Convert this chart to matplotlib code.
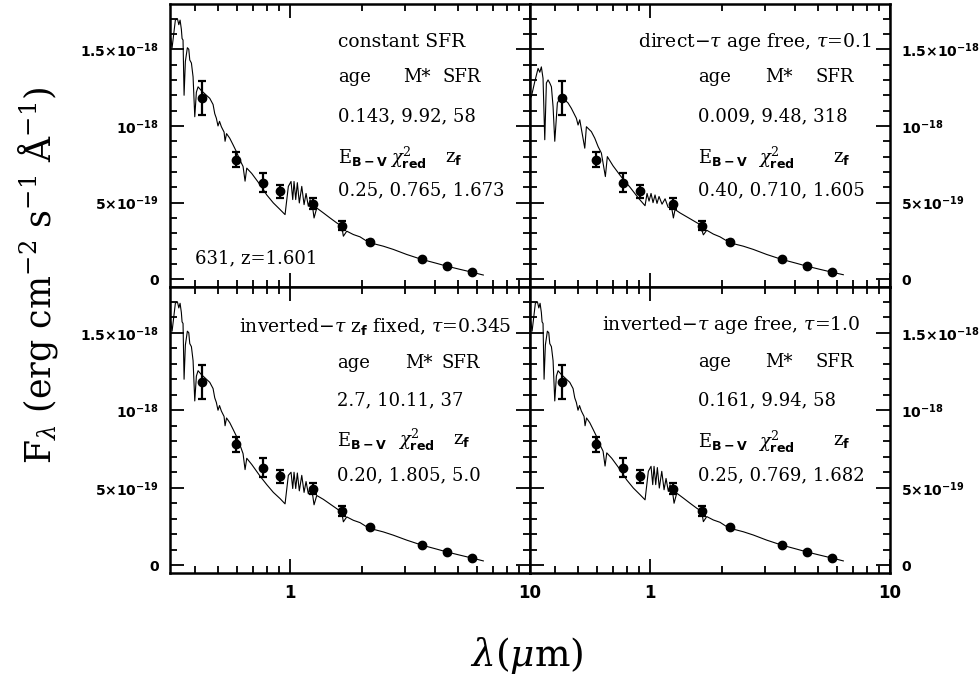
import numpy as np
import matplotlib
matplotlib.use("Agg")
import matplotlib.pyplot as plt
from matplotlib.ticker import FixedLocator, MultipleLocator, NullFormatter

plt.rcParams['font.family'] = ['DejaVu Serif']
plt.rcParams['mathtext.fontset'] = 'custom'
plt.rcParams['mathtext.rm'] = 'DejaVu Serif'
plt.rcParams['mathtext.it'] = 'DejaVu Serif:italic'
plt.rcParams['mathtext.bf'] = 'DejaVu Sans:bold'

# photometry (observed wavelength in micron, flux in 1e-19 erg/cm2/s/A)
phot_wl = [0.428, 0.596, 0.769, 0.909, 1.243, 1.64, 2.154, 3.56, 4.49, 5.71]
phot_flux = [11.8, 7.8, 6.3, 5.73, 4.94, 3.5, 2.45, 1.3, 0.86, 0.47]
phot_err = [1.1, 0.5, 0.6, 0.4, 0.35, 0.3, 0.1, 0.05, 0.05, 0.05]

# model spectra
old_wl = [0.3184, 0.3224, 0.3327, 0.3393, 0.3439, 0.3481, 0.3524, 0.3548, 0.3581, 0.3617,
          0.3662, 0.3733, 0.3784, 0.3820, 0.3881, 0.3943, 0.4008, 0.4070, 0.4137, 0.4270,
          0.4411, 0.4628, 0.4777, 0.4855, 0.4931, 0.5009, 0.5082, 0.5173, 0.5309, 0.5360,
          0.5436, 0.5606, 0.5788, 0.5974, 0.6171, 0.6370, 0.6494, 0.6601, 0.6925, 0.7499,
          0.7998, 0.8520, 0.9085, 0.9532, 0.9838, 1.0096, 1.026, 1.039, 1.056, 1.0725,
          1.093, 1.119, 1.144, 1.166, 1.192, 1.2115, 1.243, 1.259, 1.292, 1.377,
          1.468, 1.565, 1.642, 1.668, 1.723, 1.836, 1.957, 2.087, 2.154, 2.26,
          2.448, 2.694, 3.064, 3.538, 4.087, 4.497, 5.109, 5.715, 6.389]
flux_const = [15.7, 15.1, 16.9, 17.0, 16.6, 16.9, 16.3, 15.7, 15.6, 12.0,
              14.2, 15.1, 15.0, 14.3, 14.1, 13.2, 10.6, 12.2, 12.55, 12.3,
              12.1, 11.8, 11.4, 10.8, 10.5, 10.0, 10.3, 9.95, 9.6, 9.0,
              9.5, 9.2, 8.77, 8.33, 7.8, 7.36, 6.4, 7.25, 6.9, 6.17,
              5.5, 4.98, 4.55, 4.22, 6.06, 6.38, 5.2, 6.38, 5.2, 6.3,
              4.98, 6.06, 4.87, 5.6, 4.76, 5.2, 4.65, 4.0, 4.65, 4.33,
              4.0, 3.68, 3.46, 2.81, 3.14, 2.92, 2.77, 2.49, 2.38, 2.3,
              2.16, 1.95, 1.62, 1.30, 1.04, 0.86, 0.65, 0.47, 0.28]
flux_inv_fixed = [15.7, 15.1, 16.9, 17.0, 16.6, 16.9, 16.3, 15.7, 15.6, 12.0,
                  14.2, 15.1, 15.0, 14.3, 14.1, 13.2, 10.6, 12.2, 12.55, 12.3,
                  12.1, 11.8, 11.4, 10.8, 10.5, 10.0, 10.3, 9.95, 9.6, 9.0,
                  9.5, 9.2, 8.77, 8.33, 7.8, 7.2, 6.17, 6.9, 6.5, 5.75,
                  5.2, 4.7, 4.3, 3.96, 5.8, 6.0, 4.95, 6.0, 4.95, 5.95,
                  4.8, 5.8, 4.7, 5.4, 4.6, 5.0, 4.5, 3.9, 4.5, 4.25,
                  3.95, 3.65, 3.42, 2.8, 3.12, 2.9, 2.75, 2.48, 2.37, 2.29,
                  2.15, 1.94, 1.62, 1.30, 1.04, 0.86, 0.65, 0.47, 0.28]
young_wl = [0.3201, 0.3309, 0.3415, 0.3471, 0.3524, 0.3581, 0.3641, 0.3698, 0.3758, 0.3820,
            0.3881, 0.3943, 0.4008, 0.4109, 0.4205, 0.4411, 0.4552, 0.4699, 0.4931, 0.5012,
            0.5094, 0.5345, 0.5429, 0.5694, 0.5884, 0.6072, 0.6268, 0.6513, 0.6637, 0.7010,
            0.7570, 0.8254, 0.894, 0.9532, 0.9716, 0.9904, 1.0096, 1.029, 1.049, 1.069,
            1.090, 1.122, 1.155, 1.189, 1.231, 1.251, 1.271, 1.3335, 1.468, 1.615,
            1.668, 1.723, 1.836, 1.957, 2.154, 2.448, 2.694, 3.064, 3.538, 4.087,
            4.497, 5.109, 5.715, 6.389]
flux_young = [11.9, 12.9, 13.75, 13.5, 13.85, 13.1, 9.1, 12.8, 13.0, 12.8,
              12.55, 11.25, 9.0, 11.5, 11.8, 11.7, 11.5, 11.15, 10.5, 10.06,
              10.4, 8.55, 9.95, 9.63, 9.2, 8.66, 8.23, 6.7, 8.0, 7.4,
              6.7, 6.0, 5.3, 4.8, 5.6, 5.1, 5.6, 5.0, 5.5, 4.95,
              5.4, 4.9, 5.25, 4.7, 4.65, 4.0, 4.55, 4.33, 3.95, 3.57,
              2.9, 3.2, 2.95, 2.77, 2.38, 2.16, 1.95, 1.62, 1.30, 1.04,
              0.86, 0.65, 0.47, 0.30]
unit = 1e-19

titles = ["constant SFR", r"direct$-\tau$ age free, $\tau$=0.1",
          r"inverted$-\tau$ z$_{\mathbf{f}}$ fixed, $\tau$=0.345", r"inverted$-\tau$ age free, $\tau$=1.0"]
fit_line1 = ["0.143, 9.92, 58", "0.009, 9.48, 318", "2.7, 10.11, 37", "0.161, 9.94, 58"]
fit_line2 = ["0.25, 0.765, 1.673", "0.40, 0.710, 1.605", "0.20, 1.805, 5.0", "0.25, 0.769, 1.682"]

ytick_vals = [0, 5e-19, 1e-18, 1.5e-18]
ytick_labels = ["0", r"$\mathbf{5{\times}10^{-19}}$", r"$\mathbf{10^{-18}}$", r"$\mathbf{1.5{\times}10^{-18}}$"]
tick_font = dict(family=['DejaVu Sans'], weight='bold')

fig = plt.figure(figsize=(9.8, 6.75), dpi=100)
W, H = 980.0, 675.0
boxes = [(170, 4, 360, 283), (530, 4, 360, 283), (170, 287, 360, 286), (530, 287, 360, 286)]
spectra = [(old_wl, flux_const), (young_wl, flux_young), (old_wl, flux_inv_fixed), (old_wl, flux_const)]

# text placement per panel (axes fractions)
title_pos = [(0.467, 0.866, 'left'), (0.949, 0.866, 'right'), (0.949, 0.861, 'right'), (0.917, 0.867, 'right')]
col_x = [(0.467, 0.647, 0.758, 0.611, 0.764), (0.4675, 0.653, 0.792, 0.634, 0.842),
         (0.463, 0.653, 0.755, 0.633, 0.786), (0.4675, 0.653, 0.792, 0.634, 0.842)]
row_y = [(0.742, 0.604, 0.456, 0.343), (0.742, 0.604, 0.456, 0.343),
         (0.733, 0.605, 0.465, 0.343), (0.737, 0.605, 0.46, 0.343)]

for i in range(4):
    x0, y0, w, h = boxes[i]
    ax = fig.add_axes([x0 / W, 1 - (y0 + h) / H, w / W, h / H])
    wl, fl = spectra[i]
    ax.plot(wl, np.array(fl) * unit, color='black', lw=0.8)
    ax.errorbar(phot_wl, np.array(phot_flux) * unit, yerr=np.array(phot_err) * unit,
                fmt='o', color='black', ms=6, elinewidth=1.6, capsize=3, capthick=1.6)
    ax.set_xscale('log')
    ax.set_xlim(0.316, 10)
    ax.set_ylim(-0.5e-19, 17.95e-19)
    ax.xaxis.set_major_locator(FixedLocator([1, 10]))
    ax.xaxis.set_minor_locator(FixedLocator([0.4, 0.5, 0.6, 0.7, 0.8, 0.9, 2, 3, 4, 5, 6, 7, 8, 9]))
    ax.xaxis.set_minor_formatter(NullFormatter())
    ax.yaxis.set_major_locator(FixedLocator(ytick_vals))
    ax.yaxis.set_minor_locator(MultipleLocator(1e-19))
    ax.tick_params(which='both', direction='in', top=True, right=True, width=1.3)
    ax.tick_params(which='major', length=10)
    ax.tick_params(which='minor', length=5)
    for s in ax.spines.values():
        s.set_linewidth(1.8)
    if i >= 2:
        ax.set_xticklabels(["1", "10"], fontsize=12, **tick_font)
    else:
        ax.tick_params(labelbottom=False)
    ax.set_yticklabels(ytick_labels, fontsize=10, **tick_font)
    if i % 2 == 1:
        ax.tick_params(labelleft=False, labelright=True, pad=8)
    else:
        ax.tick_params(pad=8)

    tx, ty, ha = title_pos[i]
    ax.text(tx, ty, titles[i], transform=ax.transAxes, ha=ha, va='center', fontsize=13.5)
    cx = col_x[i]
    ry = row_y[i]
    ax.text(cx[0], ry[0], "age", transform=ax.transAxes, va='center', fontsize=13)
    ax.text(cx[1], ry[0], "M*", transform=ax.transAxes, va='center', fontsize=13)
    ax.text(cx[2], ry[0], "SFR", transform=ax.transAxes, va='center', fontsize=13)
    ax.text(cx[0], ry[1], fit_line1[i], transform=ax.transAxes, va='center', fontsize=13)
    ax.text(cx[0], ry[2], r"E$_{\mathbf{B-V}}$", transform=ax.transAxes, va='center', fontsize=13)
    ax.text(cx[3], ry[2], r"$\chi^2_{\mathbf{red}}$", transform=ax.transAxes, va='center', fontsize=13)
    ax.text(cx[4], ry[2], r"z$_{\mathbf{f}}$", transform=ax.transAxes, va='center', fontsize=13)
    ax.text(cx[0], ry[3], fit_line2[i], transform=ax.transAxes, va='center', fontsize=13)
    if i == 0:
        ax.text(0.069, 0.102, "631, z=1.601", transform=ax.transAxes, va='center', fontsize=13)

fig.text(38 / W, 1 - 275 / H, r"F$_\lambda$ (erg cm$^{-2}$ s$^{-1}$ Å$^{-1}$)",
         rotation=90, ha='center', va='center', fontsize=25)
fig.text(527 / W, 1 - 655 / H, r"$\lambda$($\mu$m)", ha='center', va='center', fontsize=27)

fig.savefig("out.png", dpi=100)
